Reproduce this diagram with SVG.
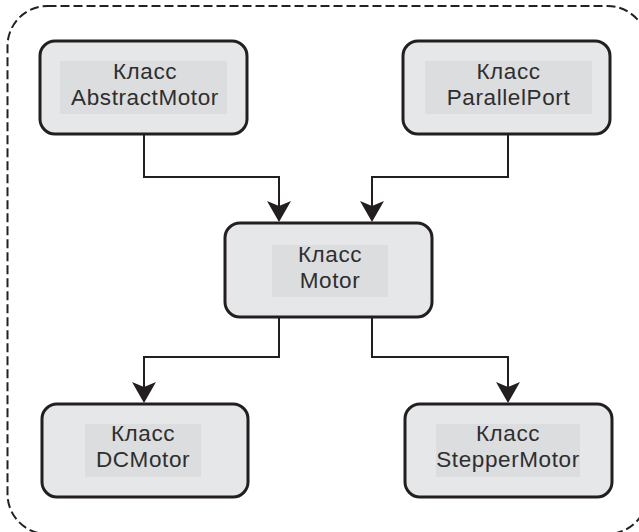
<svg xmlns="http://www.w3.org/2000/svg" width="639" height="532" viewBox="0 0 639 532">
  <style>
    .frame { fill: none; stroke: #222; stroke-width: 2; stroke-dasharray: 9 4; }
    .box { fill: #e6e7e8; stroke: #231f20; stroke-width: 3; }
    .inner { fill: #dcdddf; stroke: none; }
    .label { font-family: "Liberation Sans", Arial, sans-serif; font-size: 22.5px; fill: #2e2e2e; text-anchor: middle; letter-spacing: 0.6px; }
    .conn { fill: none; stroke: #231f20; stroke-width: 2; }
  </style>
  <defs>
    <marker id="arrow" markerUnits="userSpaceOnUse" markerWidth="22" markerHeight="24" viewBox="0 0 21 24" refX="14" refY="12" orient="auto">
      <path d="M0,0 L21,12 L0,24 L5,12 Z" fill="#231f20"/>
    </marker>
  </defs>
  <rect class="frame" x="7.5" y="6" width="640" height="528" rx="40" ry="40"/>

  <g id="connectors">
    <path class="conn" d="M144,134 V177 H279 V215" marker-end="url(#arrow)"/>
    <path class="conn" d="M508,134 V177 H372 V215" marker-end="url(#arrow)"/>
    <path class="conn" d="M279,317 V357 H144 V396" marker-end="url(#arrow)"/>
    <path class="conn" d="M372,317 V357 H508 V396" marker-end="url(#arrow)"/>
  </g>

  <g id="abstractmotor">
    <rect class="box" x="40" y="41" width="207" height="93" rx="15"/>
    <rect class="inner" x="60" y="61" width="167" height="53"/>
    <text class="label" x="145" y="79">Класс</text>
    <text class="label" x="145" y="105">AbstractMotor</text>
  </g>

  <g id="parallelport">
    <rect class="box" x="403" y="41" width="207" height="93" rx="15"/>
    <rect class="inner" x="425" y="61" width="167" height="53"/>
    <text class="label" x="508.5" y="79">Класс</text>
    <text class="label" x="508.5" y="105">ParallelPort</text>
  </g>

  <g id="motor">
    <rect class="box" x="225" y="223" width="207" height="94" rx="15"/>
    <rect class="inner" x="272" y="245" width="116" height="52"/>
    <text class="label" x="330" y="262">Класс</text>
    <text class="label" x="330" y="288">Motor</text>
  </g>

  <g id="dcmotor">
    <rect class="box" x="42" y="404" width="206" height="93" rx="15"/>
    <rect class="inner" x="85" y="424" width="116" height="53"/>
    <text class="label" x="143" y="441">Класс</text>
    <text class="label" x="143" y="467">DCMotor</text>
  </g>

  <g id="steppermotor">
    <rect class="box" x="405" y="404" width="207" height="93" rx="15"/>
    <rect class="inner" x="436" y="424" width="144" height="53"/>
    <text class="label" x="508" y="441">Класс</text>
    <text class="label" x="508" y="467">StepperMotor</text>
  </g>
</svg>
